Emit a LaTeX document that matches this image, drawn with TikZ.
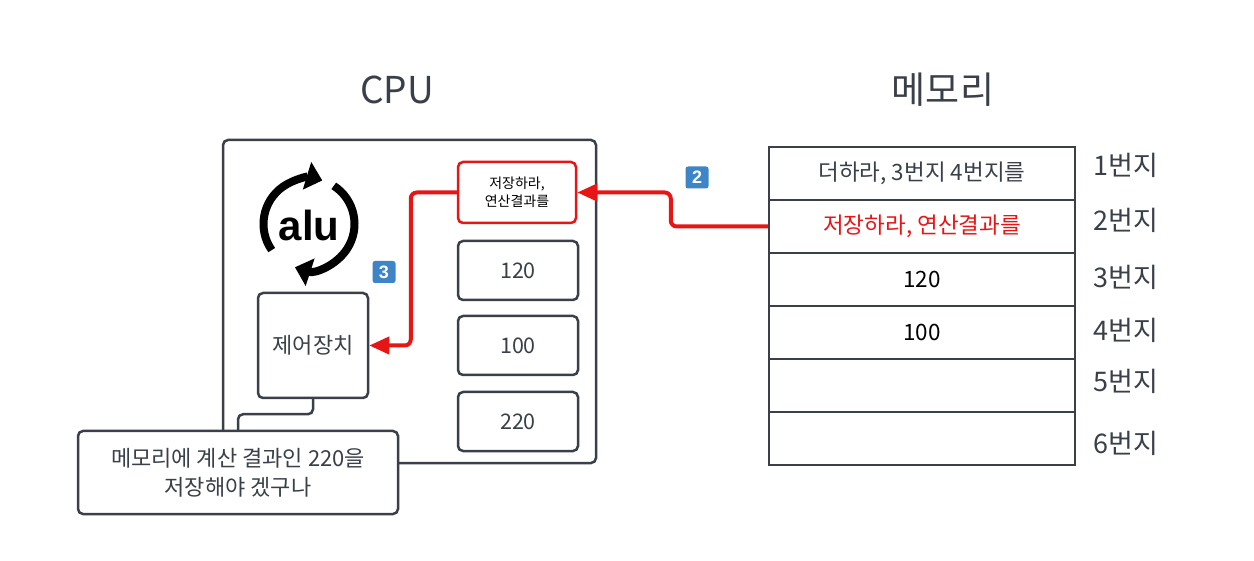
\documentclass[tikz,border=0pt]{standalone}
\usepackage{fontspec}
\setmainfont{Noto Sans CJK KR}
\newfontfamily\alufont{Liberation Sans}
\usetikzlibrary{arrows.meta}
\definecolor{linegray}{HTML}{3A4049}
\definecolor{alarmred}{HTML}{E81515}
\definecolor{badgeblue}{HTML}{3D85C6}
\begin{document}
\begin{tikzpicture}[x=1pt,y=-1pt,
    box/.style={draw=linegray,line width=2.5pt,rounded corners=5pt,fill=white,text=linegray,align=center,inner sep=0pt},
    cell/.style={draw=linegray,line width=2.5pt,minimum width=306pt,minimum height=53pt,inner sep=0pt,font=\fontsize{22.5}{26}\selectfont},
    badge/.style={fill=badgeblue,rounded corners=2.5pt,minimum width=23pt,minimum height=22pt,inner sep=0pt,text=white,font=\alufont\fontsize{18}{18}\selectfont\bfseries},
    redline/.style={draw=alarmred,line width=4pt,rounded corners=6pt,-{Triangle[length=20pt,width=17pt]}},
    addr/.style={text=linegray,font=\fontsize{27}{30}\selectfont}]
    \useasboundingbox (0,0) rectangle (1254,561);
    % titles
    \node[text=linegray,font=\fontsize{37}{42}\selectfont] (cputitle) at (397,90) {CPU};
    \node[text=linegray,font=\fontsize{37}{42}\selectfont] (memtitle) at (943,90) {메모리};
    % cpu
    \node[box,minimum width=373pt,minimum height=323pt] (cpu) at (409.5,301.5) {};
    \node[box,draw=alarmred,text=black,minimum width=118pt,minimum height=61pt,font=\fontsize{14}{18}\selectfont] (order) at (517,192.5) {저장하라,\\연산결과를};
    \node[box,minimum width=120pt,minimum height=59pt,font=\fontsize{21.5}{24}\selectfont] (reg1) at (518,270.5) {120};
    \node[box,minimum width=120pt,minimum height=59pt,font=\fontsize{21.5}{24}\selectfont] (reg2) at (518,345.5) {100};
    \node[box,minimum width=120pt,minimum height=59pt,font=\fontsize{21.5}{24}\selectfont] (reg3) at (518,421.5) {220};
    \node[box,minimum width=110pt,minimum height=105pt,font=\fontsize{22}{26}\selectfont] (ctrl) at (313,345.5) {제어장치};
    % alu icon
    \node[font=\alufont\fontsize{42}{44}\selectfont\bfseries] (alu) at (309,225) {alu};
    \draw[line width=8pt,-{Triangle[length=16pt,width=28pt]}] (309,224) ++(145:45.5) arc[start angle=145,end angle=287,radius=45.5];
    \draw[line width=8pt,-{Triangle[length=16pt,width=28pt]}] (309,224) ++(303:45.5) arc[start angle=303,end angle=468,radius=45.5];
    % memory
    \node[cell,text=linegray] (cell1) at (922,173.5) {더하라, 3번지 4번지를};
    \node[cell,text=alarmred] (cell2) at (922,226.5) {저장하라, 연산결과를};
    \node[cell] (cell3) at (922,279.5) {120};
    \node[cell] (cell4) at (922,332.5) {100};
    \node[cell] (cell5) at (922,385.5) {};
    \node[cell] (cell6) at (922,438.5) {};
    \node[addr] (addr1) at (1126,165) {1번지};
    \node[addr] (addr2) at (1126,220) {2번지};
    \node[addr] (addr3) at (1126,277) {3번지};
    \node[addr] (addr4) at (1126,330) {4번지};
    \node[addr] (addr5) at (1126,381) {5번지};
    \node[addr] (addr6) at (1126,443) {6번지};
    % arrows
    \draw[redline] (cell2.west) -- ++(-97,0) |- (order.east);
    \draw[redline] (order.west) -- ++(-46,0) |- (ctrl.east);
    \node[badge] (step2) at (697,177.5) {2};
    \node[badge] (step3) at (384,272) {3};
    % thought
    \draw[draw=linegray,line width=2.5pt,rounded corners=5pt] (ctrl.south) -- ++(0,15) -| (238,431);
    \node[box,minimum width=320pt,minimum height=83pt,font=\fontsize{22}{29}\selectfont] (speech) at (238,472.5) {메모리에 계산 결과인 220을\\저장해야 겠구나};
\end{tikzpicture}
\end{document}
